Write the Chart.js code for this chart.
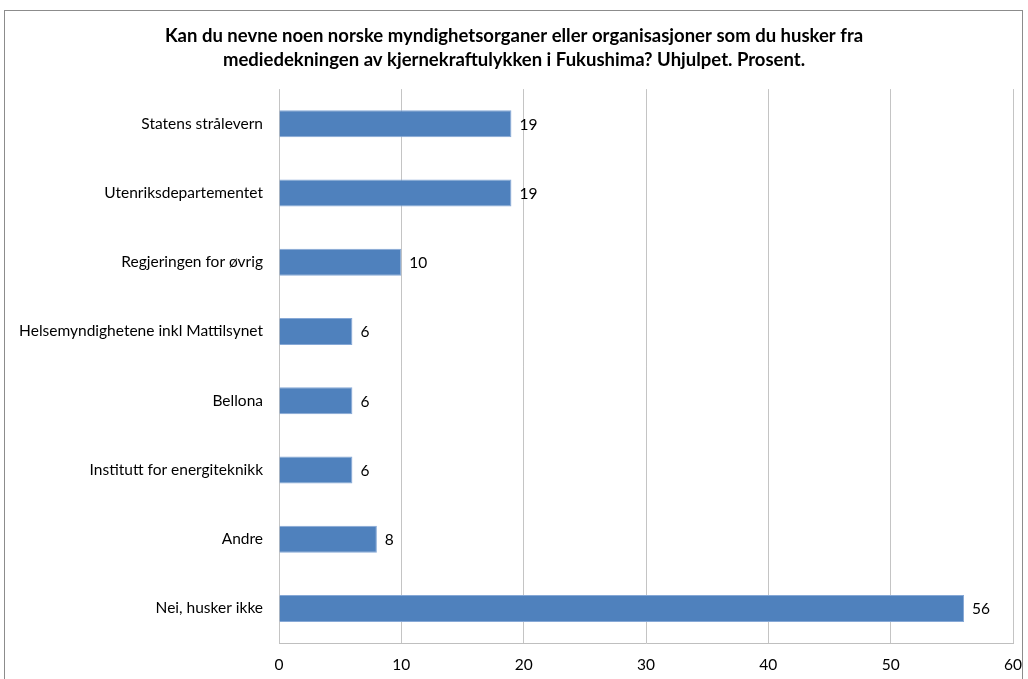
<!DOCTYPE html>
<html>
<head>
<meta charset="utf-8">
<script src="https://cdn.jsdelivr.net/npm/chart.js@4/dist/chart.umd.min.js"></script>
<style>
  html, body { margin: 0; padding: 0; background: #fff; overflow: hidden; }
  #frame { position: absolute; left: 4px; top: 10px; width: 1017px; height: 700px; border: 1px solid #8c8c8c; }
  #wrap { position: absolute; left: 0; top: 0; width: 1028px; height: 679px; }
</style>
</head>
<body>
<div id="frame"></div>
<div id="wrap"><canvas id="fukushimaChart"></canvas></div>
<script>
// Données du graphique
const categories = [
  "Statens strålevern",
  "Utenriksdepartementet",
  "Regjeringen for øvrig",
  "Helsemyndighetene inkl Mattilsynet",
  "Bellona",
  "Institutt for energiteknikk",
  "Andre",
  "Nei, husker ikke",
];
const prosent = [19, 19, 10, 6, 6, 6, 8, 56];
const xTicks = [0, 10, 20, 30, 40, 50, 60];
const tittel = [
  "Kan du nevne noen norske myndighetsorganer eller organisasjoner som du husker fra",
  "mediedekningen av kjernekraftulykken i Fukushima? Uhjulpet. Prosent.",
];

const fontFamily = "Lato, 'Open Sans', sans-serif";

// Valeurs à droite des barres
const valueLabels = {
  id: "valueLabels",
  afterDatasetsDraw(chart) {
    const ctx = chart.ctx;
    const meta = chart.getDatasetMeta(0);
    ctx.save();
    ctx.font = "15.5px " + fontFamily;
    ctx.fillStyle = "#000";
    ctx.textAlign = "left";
    ctx.textBaseline = "middle";
    meta.data.forEach((bar, i) => {
      ctx.fillText(String(prosent[i]), bar.x + 8, bar.y + 1);
    });
    ctx.restore();
  },
};

const config = {
  type: "bar",
  data: {
    labels: categories,
    datasets: [
      {
        data: prosent,
        backgroundColor: "#4F81BD",
        borderColor: "#86A8D6",
        borderWidth: 1,
        barPercentage: 0.78,
        categoryPercentage: 0.5,
      },
    ],
  },
  options: {
    indexAxis: "y",
    responsive: false,
    animation: false,
    layout: { padding: { left: 0, right: 0, top: 0, bottom: 0 } },
    plugins: {
      legend: { display: false },
      tooltip: { enabled: false },
      title: {
        display: true,
        text: tittel,
        color: "#000",
        font: { family: fontFamily, size: 18.5, weight: "bold", lineHeight: 1.3 },
        padding: { top: 24, bottom: 17 },
      },
    },
    scales: {
      x: {
        min: 0,
        max: 60,
        afterBuildTicks(scale) {
          scale.ticks = xTicks.map((v) => ({ value: v }));
        },
        afterFit(scale) {
          scale.height = 36;
          scale.paddingRight = 15;
        },
        grid: { color: "#C4C4C4", drawTicks: false },
        border: { display: true, color: "#BFBFBF" },
        ticks: {
          padding: 13,
          color: "#000",
          font: { family: fontFamily, size: 15.5 },
        },
      },
      y: {
        afterFit(scale) {
          scale.width = 279;
        },
        grid: { display: false, drawTicks: false },
        border: { display: false },
        ticks: {
          padding: 16,
          color: "#000",
          font: { family: fontFamily, size: 15.5 },
        },
      },
    },
  },
  plugins: [valueLabels],
};

window.addEventListener("DOMContentLoaded", () => {
  const canvas = document.getElementById("fukushimaChart");
  canvas.width = 1028;
  canvas.height = 679;
  new Chart(canvas.getContext("2d"), config);
});
</script>
</body>
</html>
